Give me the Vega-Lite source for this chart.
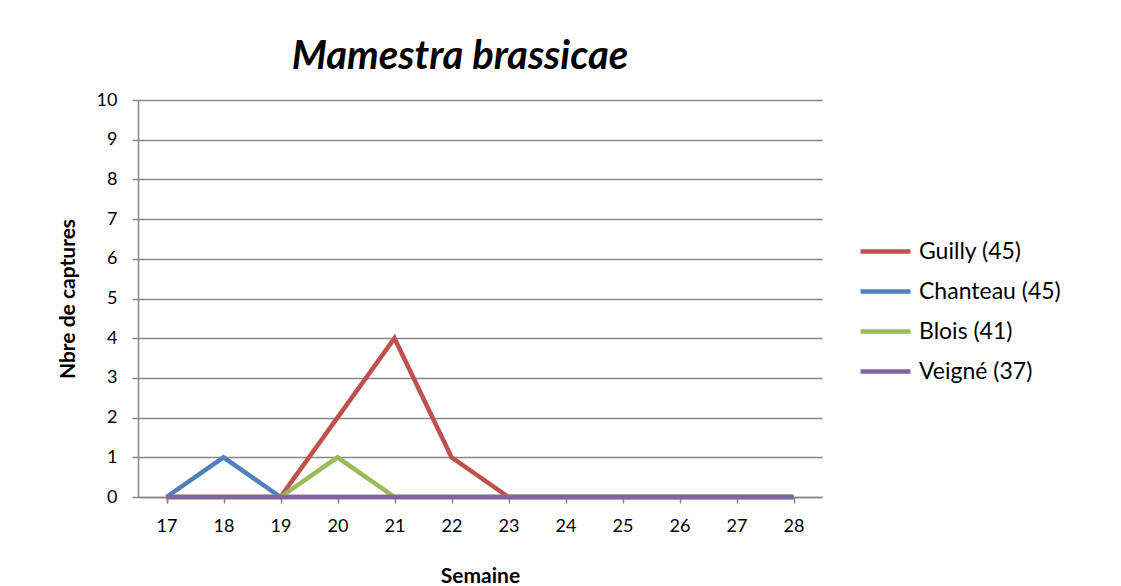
{
  "$schema": "https://vega.github.io/schema/vega-lite/v6.json",
  "autosize": "none",
  "width": 684,
  "height": 397,
  "padding": {"left": 138, "top": 100, "right": 299, "bottom": 89},
  "background": "white",
  "title": {
    "text": "Mamestra  brassicae",
    "font": "Lato",
    "fontSize": 40,
    "fontStyle": "italic",
    "fontWeight": "bold",
    "color": "black",
    "anchor": "middle",
    "dx": -20,
    "offset": 14
  },
  "data": {
    "values": [
      {"s": 17, "site": "Guilly (45)", "n": 0},
      {"s": 18, "site": "Guilly (45)", "n": 0},
      {"s": 19, "site": "Guilly (45)", "n": 0},
      {"s": 20, "site": "Guilly (45)", "n": 2},
      {"s": 21, "site": "Guilly (45)", "n": 4},
      {"s": 22, "site": "Guilly (45)", "n": 1},
      {"s": 23, "site": "Guilly (45)", "n": 0},
      {"s": 24, "site": "Guilly (45)", "n": 0},
      {"s": 25, "site": "Guilly (45)", "n": 0},
      {"s": 26, "site": "Guilly (45)", "n": 0},
      {"s": 27, "site": "Guilly (45)", "n": 0},
      {"s": 28, "site": "Guilly (45)", "n": 0},
      {"s": 17, "site": "Chanteau (45)", "n": 0},
      {"s": 18, "site": "Chanteau (45)", "n": 1},
      {"s": 19, "site": "Chanteau (45)", "n": 0},
      {"s": 20, "site": "Chanteau (45)", "n": 0},
      {"s": 21, "site": "Chanteau (45)", "n": 0},
      {"s": 22, "site": "Chanteau (45)", "n": 0},
      {"s": 23, "site": "Chanteau (45)", "n": 0},
      {"s": 24, "site": "Chanteau (45)", "n": 0},
      {"s": 25, "site": "Chanteau (45)", "n": 0},
      {"s": 26, "site": "Chanteau (45)", "n": 0},
      {"s": 27, "site": "Chanteau (45)", "n": 0},
      {"s": 28, "site": "Chanteau (45)", "n": 0},
      {"s": 17, "site": "Blois (41)", "n": 0},
      {"s": 18, "site": "Blois (41)", "n": 0},
      {"s": 19, "site": "Blois (41)", "n": 0},
      {"s": 20, "site": "Blois (41)", "n": 1},
      {"s": 21, "site": "Blois (41)", "n": 0},
      {"s": 22, "site": "Blois (41)", "n": 0},
      {"s": 23, "site": "Blois (41)", "n": 0},
      {"s": 24, "site": "Blois (41)", "n": 0},
      {"s": 25, "site": "Blois (41)", "n": 0},
      {"s": 26, "site": "Blois (41)", "n": 0},
      {"s": 27, "site": "Blois (41)", "n": 0},
      {"s": 28, "site": "Blois (41)", "n": 0},
      {"s": 17, "site": "Veigné (37)", "n": 0},
      {"s": 18, "site": "Veigné (37)", "n": 0},
      {"s": 19, "site": "Veigné (37)", "n": 0},
      {"s": 20, "site": "Veigné (37)", "n": 0},
      {"s": 21, "site": "Veigné (37)", "n": 0},
      {"s": 22, "site": "Veigné (37)", "n": 0},
      {"s": 23, "site": "Veigné (37)", "n": 0},
      {"s": 24, "site": "Veigné (37)", "n": 0},
      {"s": 25, "site": "Veigné (37)", "n": 0},
      {"s": 26, "site": "Veigné (37)", "n": 0},
      {"s": 27, "site": "Veigné (37)", "n": 0},
      {"s": 28, "site": "Veigné (37)", "n": 0}
    ]
  },
  "mark": {"type": "line", "strokeWidth": 4.5, "strokeCap": "butt", "strokeJoin": "miter"},
  "encoding": {
    "x": {
      "field": "s",
      "type": "ordinal",
      "scale": {"type": "point", "padding": 0.5},
      "axis": {
        "title": "Semaine",
        "titleFont": "Lato",
        "titleFontSize": 21,
        "titleFontWeight": "bold",
        "titleColor": "black",
        "titlePadding": 30,
        "labelAngle": 0,
        "labelFont": "Lato",
        "labelFontSize": 18,
        "labelColor": "black",
        "labelPadding": 14,
        "domainColor": "#868686",
        "domainWidth": 1.5,
        "tickColor": "#868686",
        "tickWidth": 1.5,
        "tickSize": 6,
        "tickBand": "extent",
        "grid": false
      }
    },
    "y": {
      "field": "n",
      "type": "quantitative",
      "scale": {"domain": [0, 10], "nice": false},
      "axis": {
        "title": "Nbre de captures",
        "titleFont": "Lato",
        "titleFontSize": 21,
        "titleFontWeight": "bold",
        "titleColor": "black",
        "titlePadding": 18,
        "values": [0, 1, 2, 3, 4, 5, 6, 7, 8, 9, 10],
        "labelFont": "Lato",
        "labelFontSize": 18,
        "labelColor": "black",
        "labelPadding": 15,
        "domainColor": "#868686",
        "domainWidth": 1.5,
        "tickColor": "#868686",
        "tickWidth": 1.5,
        "tickSize": 6,
        "grid": true,
        "gridColor": "#868686",
        "gridWidth": 1.5
      }
    },
    "color": {
      "field": "site",
      "type": "nominal",
      "sort": ["Guilly (45)", "Chanteau (45)", "Blois (41)", "Veigné (37)"],
      "scale": {
        "domain": ["Guilly (45)", "Chanteau (45)", "Blois (41)", "Veigné (37)"],
        "range": ["#C0504D", "#4F81BD", "#9BBB59", "#8064A2"]
      },
      "legend": {
        "title": null,
        "orient": "none",
        "legendX": 720,
        "legendY": 124,
        "symbolType": "stroke",
        "symbolSize": 2500,
        "symbolStrokeWidth": 4.5,
        "labelFont": "Lato",
        "labelFontSize": 23,
        "labelColor": "black",
        "labelOffset": 6,
        "rowPadding": 0
      }
    },
    "order": {"field": "s", "type": "ordinal"}
  },
  "config": {
    "view": {"stroke": null}
  }
}
